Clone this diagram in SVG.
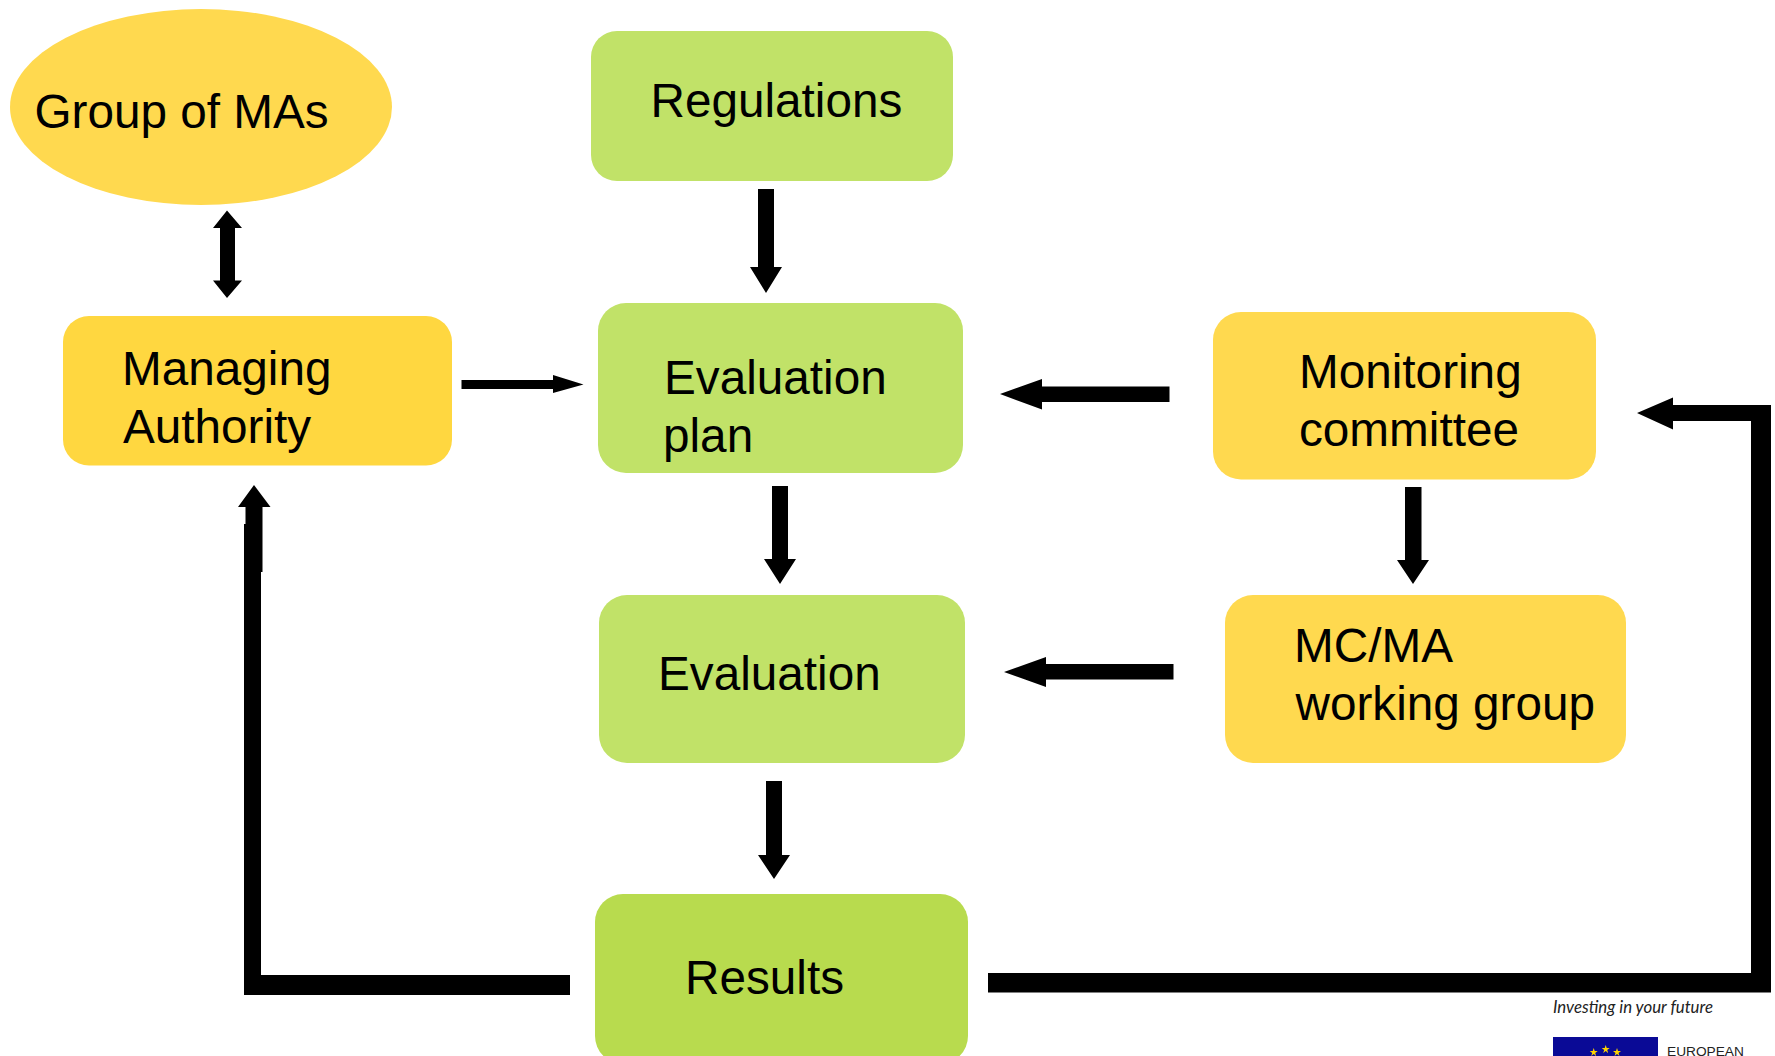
<svg xmlns="http://www.w3.org/2000/svg" width="1775" height="1056" viewBox="0 0 1775 1056">
<style>
text{font-family:"Liberation Sans",Arial,sans-serif;font-size:47.700px;fill:#000}
.y{fill:#FFD94F}.g{fill:#C1E268}
.c path{fill:#000}
</style>
<rect width="1775" height="1056" fill="#fff"/>
<g id="group-of-mas"><ellipse class="y" cx="201" cy="107" rx="191" ry="98"/><text x="34.500" y="128">Group of MAs</text></g>
<g id="regulations"><rect class="g" x="591" y="31" width="362" height="150" rx="26"/><text x="650.500" y="117">Regulations</text></g>
<g id="managing-authority"><rect x="63" y="316" width="389" height="149.500" rx="26" fill="#FFD740"/><text x="122" y="385">Managing</text><text x="123" y="443">Authority</text></g>
<g id="evaluation-plan"><rect class="g" x="598" y="303" width="365" height="170" rx="28"/><text x="664" y="394">Evaluation</text><text x="663" y="452">plan</text></g>
<g id="monitoring-committee"><rect class="y" x="1213" y="312" width="383" height="167.500" rx="28"/><text x="1299" y="388">Monitoring</text><text x="1299" y="446">committee</text></g>
<g id="evaluation"><rect class="g" x="599" y="595" width="366" height="168" rx="28"/><text x="658" y="690">Evaluation</text></g>
<g id="working-group"><rect class="y" x="1225" y="595" width="401" height="168" rx="28"/><text x="1294" y="662">MC/MA</text><text x="1295.500" y="720">working group</text></g>
<g id="results"><rect x="595" y="894" width="373" height="170" rx="28" fill="#B8DB4E"/><text x="685" y="994">Results</text></g>
<g id="connectors" class="c">
<path d="M227 210.500L242 228H235V280.500H242L227 298L213 280.500H220V228H213Z"/>
<path d="M461.500 380H553V375L583.500 384.500L553 393V389H461.500Z"/>
<path d="M758 189H774V267H782L766 293L750 267H758Z"/>
<path d="M772 486H788V559H796L780 584L764 559H772Z"/>
<path d="M766 781H782V855H790L774 879L758 855H766Z"/>
<path d="M1405 487H1421.500V560H1429L1413 584L1397 560H1405Z"/>
<path d="M1169.500 386.500V402H1042V409.500L1000 394L1042 379V386.500Z"/>
<path d="M1173.500 664V679.500H1046V687L1004 672L1046 657V664Z"/>
<path d="M254 485L270.500 507H262.500V572H261V975H570V995H244V524H245.500V507H238Z"/>
<path d="M988 973H1751V421H1673V429.500L1637 413L1673 397.500V405H1771V992.500H988Z"/>
</g>
<g id="logo">
<text x="1553" y="1013" textLength="160" lengthAdjust="spacingAndGlyphs" style="font-family:Lato,sans-serif;font-style:italic;font-size:18px;fill:#222">Investing in your future</text>
<rect x="1553" y="1037" width="105" height="19" fill="#0A0A96"/>
<path fill="#FFD400" d="M1605.700 1045l1 3h3l-2.500 2 1 3-2.500-2-2.500 2 1-3-2.500-2h3zM1593.700 1048l1 3h3l-2.500 2 1 3-2.500-2-2.500 2 1-3-2.500-2h3zM1617 1048l1 3h3l-2.500 2 1 3-2.500-2-2.500 2 1-3-2.500-2h3z"/>
<text x="1667" y="1056" style="font-size:13.700px;fill:#222">EUROPEAN</text>
</g>
</svg>
